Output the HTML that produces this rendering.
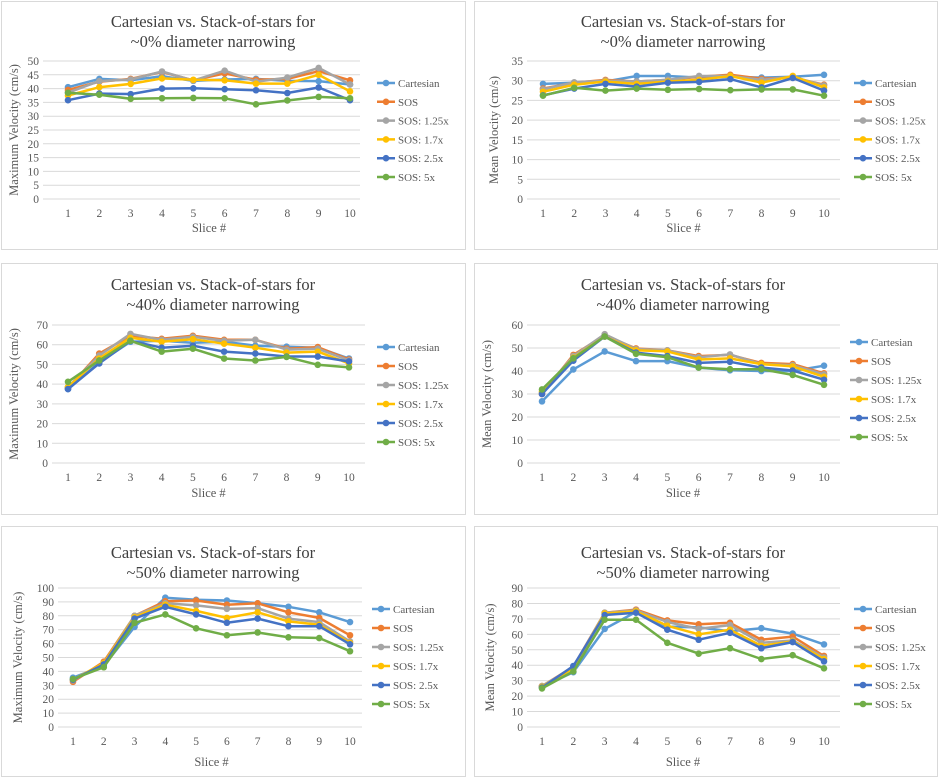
<!DOCTYPE html>
<html><head><meta charset="utf-8"><style>
html,body{margin:0;padding:0;background:#fff}
svg{display:block;font-family:"Liberation Serif",serif}
</style></head><body>
<svg id="c" width="939" height="778" viewBox="0 0 939 778"></svg>
<script>
const categories = [1,2,3,4,5,6,7,8,9,10];
const seriesNames = ["Cartesian","SOS","SOS: 1.25x","SOS: 1.7x","SOS: 2.5x","SOS: 5x"];
const colors = ["#5B9BD5","#ED7D31","#A5A5A5","#FFC000","#4472C4","#70AD47"];

const p1Cart=[40.5,43.5,43,44.5,42.8,43.3,43.5,42.8,42.7,41.5];
const p1Sos=[39.5,42.5,43.5,46,43,45.5,43.2,43.5,46.3,43];
const p1S125=[38.5,42.7,43.3,46.2,42.9,46.5,42.5,44,47.5,41.5];
const p1S17=[37.5,40.5,41.7,43.7,43.2,43,41.8,41.8,45,39];
const p1S25=[35.8,38.2,38,40,40.1,39.8,39.4,38.4,40.4,35.8];
const p1S5=[38.5,37.8,36.3,36.5,36.6,36.5,34.3,35.7,37,36.5];

const p2Cart=[29.2,29.5,29.8,31.2,31.2,30.8,31,30.8,31,31.5];
const p2Sos=[28,29.5,30.2,29.8,30.2,31,31.5,30.5,30.8,29];
const p2S125=[27.8,29.6,30,29.8,30.2,31.2,31.2,30.2,31,28.8];
const p2S17=[27.2,29,29.8,29.2,29.8,30.2,31.2,29.5,31.2,28.3];
const p2S25=[26.3,28,29.2,28.5,29.5,29.7,30.4,28.3,30.7,27.5];
const p2S5=[26.2,28.2,27.5,28,27.7,27.9,27.6,27.8,27.8,26.2];

const p3Cart=[37.5,51,61.5,62,61,61.5,59.5,59,58.5,53];
const p3Sos=[38,55.5,64.5,63,64.5,62.5,62.5,58,58.8,52.5];
const p3S125=[38.5,54.5,65.5,62.5,64,62,62.5,57.5,58,52];
const p3S17=[38.5,53,63.5,61.5,62.8,60.5,58.5,56,56.5,50.5];
const p3S25=[37.5,50.5,62,58.5,59.5,56.5,55.5,54,54,51.5];
const p3S5=[41.2,52,62,56.5,58,53,52,53.8,49.8,48.5];

const p4Cart=[26.8,40.7,48.5,44.3,44.3,41.5,40.3,40,40,42.3];
const p4Sos=[30,47,55.5,49.8,49,46.5,47,43.5,43,39];
const p4S125=[30.5,46.5,56,49.5,49,46,47.2,43,42.5,38.5];
const p4S17=[31,45.8,55,49,48.5,45,45.5,43,42,37.5];
const p4S25=[30,44.5,55,48,46.5,43.5,44,41.5,40.2,36.2];
const p4S5=[32,45.5,55,47.5,46,41.5,40.8,40.8,38.3,34];

const p5Cart=[35.5,44,72,93,91.5,91,89,86.5,82.5,75.5];
const p5Sos=[32.5,47,80,90.5,91,88,89,82.5,78.5,66];
const p5S125=[33.5,46,80,89,87.5,85,85.5,78,75.5,61.5];
const p5S17=[34,46,79,88,83.5,78.5,82.5,76,73.5,60.5];
const p5S25=[34,45,78,86.5,81,75,78,72.5,72.5,59.5];
const p5S5=[34.5,43,75,81,71,66,68,64.5,64,54.5];

const p6Cart=[26,35.5,63.5,74.5,65,64.5,62,64,60.5,53.5];
const p6Sos=[26.5,39,74,76,69,66.5,67.5,56.5,58.5,46];
const p6S125=[26.5,38.5,74,75.5,68,63.5,66,54.5,56,45];
const p6S17=[26,38,73.5,75,65.5,60,63,52.5,55.5,44];
const p6S25=[25.5,39.5,72.5,74,63,56.5,61,51,55,42.5];
const p6S5=[25,36,69.5,69.5,54.5,47.5,51,44,46.5,38];

const yMaxes=[50,35,70,60,100,90];
const ySteps=[5,5,10,10,10,10];
const titles2=["~0% diameter narrowing","~0% diameter narrowing","~40% diameter narrowing","~40% diameter narrowing","~50% diameter narrowing","~50% diameter narrowing"];
const yTitles=["Maximum Velocity (cm/s)","Mean Velocity (cm/s)","Maximum Velocity (cm/s)","Mean Velocity (cm/s)","Maximum Velocity (cm/s)","Mean Velocity (cm/s)"];
const panelData=[
 [p1Cart,p1Sos,p1S125,p1S17,p1S25,p1S5],
 [p2Cart,p2Sos,p2S125,p2S17,p2S25,p2S5],
 [p3Cart,p3Sos,p3S125,p3S17,p3S25,p3S5],
 [p4Cart,p4Sos,p4S125,p4S17,p4S25,p4S5],
 [p5Cart,p5Sos,p5S125,p5S17,p5S25,p5S5],
 [p6Cart,p6Sos,p6S125,p6S17,p6S25,p6S5]];

const L=[
 {bx:1,by:1,bw:465,bh:249,x1:68,x10:350,g0:43,g1:360,y0:199,yt:61,tY:27,ytx:18,lx:385,ly:83,ld:18.8,xl:213,sl:232},
 {bx:474,by:1,bw:464,bh:249,x1:543,x10:824,g0:527,g1:840,y0:199,yt:61,tY:27,ytx:498,lx:862,ly:83,ld:18.8,xl:683,sl:232},
 {bx:1,by:263,bw:465,bh:252,x1:68,x10:349,g0:52,g1:365,y0:463,yt:325,tY:290,ytx:18,lx:385,ly:347,ld:19,xl:213,sl:497},
 {bx:474,by:263,bw:464,bh:252,x1:542,x10:824,g0:527,g1:840,y0:463,yt:325,tY:290,ytx:491,lx:858,ly:342,ld:19,xl:683,sl:497},
 {bx:1,by:526,bw:465,bh:251,x1:73,x10:350,g0:58,g1:362,y0:727,yt:588,tY:558,ytx:22,lx:380,ly:609,ld:19,xl:213,sl:766},
 {bx:474,by:526,bw:464,bh:251,x1:542,x10:824,g0:527,g1:840,y0:727,yt:588,tY:558,ytx:494,lx:862,ly:609,ld:19,xl:683,sl:766}];

const NS="http://www.w3.org/2000/svg";
const svg=document.getElementById('c');
function mk(tag,at,parent,txt){const e=document.createElementNS(NS,tag);for(const k in at)e.setAttribute(k,at[k]);if(txt!==undefined)e.textContent=txt;(parent||svg).appendChild(e);return e;}

panelData.forEach((data,pi)=>{
  const c=L[pi];
  const g=mk('g',{});
  
  
  const border=mk('rect',{x:c.bx+0.5,y:c.by+0.5,width:c.bw-1,height:c.bh-1,fill:'#fff',stroke:'#d9d9d9'},g);
  
  
  const xs=i=>c.x1+(c.x10-c.x1)*i/(categories.length-1);
  const ys=v=>c.y0-(c.y0-c.yt)*v/yMaxes[pi];
  const t1=mk('text',{x:c.xl,y:c.tY,'text-anchor':'middle','font-size':'16.5',fill:'#404040'},g,'Cartesian vs. Stack-of-stars for');
  
  
  const t2=mk('text',{x:c.xl,y:c.tY+20,'text-anchor':'middle','font-size':'16.5',fill:'#404040'},g,titles2[pi]);
  
  
  for(let v=0;v<=yMaxes[pi];v+=ySteps[pi]){
    const gl=mk('line',{x1:c.g0,x2:c.g1,y1:ys(v),y2:ys(v),stroke:'#d9d9d9','stroke-width':1},g);
    
    
    const tl=mk('text',{x:c.g0-4,y:ys(v)+4,'text-anchor':'end','font-size':'11.5',fill:'#595959'},g,v);
    
    
  }
  categories.forEach((cat,i)=>{
    const tl=mk('text',{x:xs(i),y:c.y0+18,'text-anchor':'middle','font-size':'11.5',fill:'#595959'},g,cat);
    
    
  });
  const xt=mk('text',{x:(c.x1+c.x10)/2,y:c.sl,'text-anchor':'middle','font-size':'12.5',fill:'#595959'},g,'Slice #');
  
  
  const ym=(c.y0+c.yt)/2;
  const yt=mk('text',{x:c.ytx,y:ym,'text-anchor':'middle','font-size':'12.5',fill:'#595959',transform:'rotate(-90 '+c.ytx+' '+ym+')'},g,yTitles[pi]);
  
  
  data.forEach((vals,si)=>{
    const pts=vals.map((v,i)=>xs(i).toFixed(1)+','+ys(v).toFixed(1)).join(' ');
    const pl=mk('polyline',{points:pts,fill:'none',stroke:colors[si],'stroke-width':2.5,'stroke-linejoin':'round'},g);
    
    
    vals.forEach((v,i)=>{
      const m=mk('circle',{cx:xs(i),cy:ys(v),r:3.3,fill:colors[si]},g);
      
      
    });
  });
  seriesNames.forEach((n,si)=>{
    const y=c.ly+si*c.ld;
    const lg=mk('g',{},g);
    
    
    mk('line',{x1:c.lx-8,x2:c.lx+10,y1:y,y2:y,stroke:colors[si],'stroke-width':2.5},lg);
    mk('circle',{cx:c.lx+1,cy:y,r:3.3,fill:colors[si]},lg);
    mk('text',{x:c.lx+13,y:y+4,'font-size':'11','fill':'#595959'},lg,n);
  });
});
</script>
</body></html>
